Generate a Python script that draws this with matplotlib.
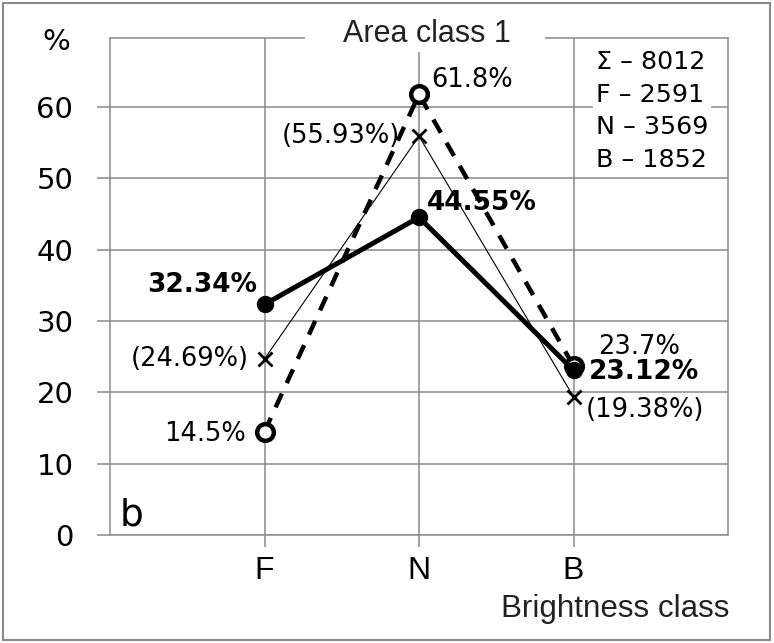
import matplotlib
matplotlib.use("Agg")
import matplotlib.pyplot as plt
from matplotlib.patches import Rectangle

# data
classes = ["F", "N", "B"]
solid_vals = [32.34, 44.55, 23.12]
thin_vals = [24.69, 55.93, 19.38]
dash_vals = [14.5, 61.8, 23.7]
solid_labels = ["32.34%", "44.55%", "23.12%"]
thin_labels = ["(24.69%)", "(55.93%)", "(19.38%)"]
dash_labels = ["14.5%", "61.8%", "23.7%"]
counts = ["Σ – 8012", "F – 2591", "N – 3569", "B – 1852"]
y_ticks = [0, 10, 20, 30, 40, 50, 60]

grey = "#8a8a8a"
plt.rcParams["font.family"] = ["DejaVu Sans"]

fig = plt.figure(figsize=(7.74, 6.43), dpi=100)
ax = fig.add_axes([110 / 774, 108 / 643, 618 / 774, 497 / 643])

x = list(range(len(classes)))

# thin line with crosses
ax.plot(x, thin_vals, color="black", lw=0.8, marker="x", ms=10, mew=2, zorder=3)
# dashed line with open circles
ax.plot(x, dash_vals, color="black", lw=3.2, dashes=(3.4, 2.6), marker="o",
        ms=12, mfc="white", mec="black", mew=3.2, zorder=4)
# thick solid line with filled circles
ax.plot(x, solid_vals, color="black", lw=3.6, marker="o", ms=11.5, zorder=5)

# point labels: (offset x, offset y) in points, alignment
solid_off = [(-5, 14, "right"), (6, 10, "left"), (11, -1, "left")]
thin_off = [(-11.5, 0, "right"), (-14, 0, "right"), (8.6, -9.4, "left")]
dash_off = [(-13.7, -1.4, "right"), (8.6, 10, "left"), (18, 13.7, "left")]

for i in x:
    dx, dy, ha = solid_off[i]
    ax.annotate(solid_labels[i], (x[i], solid_vals[i]), xytext=(dx, dy),
                textcoords="offset points", ha=ha, va="center",
                fontsize=19, fontweight="bold", zorder=6)
    dx, dy, ha = thin_off[i]
    ax.annotate(thin_labels[i], (x[i], thin_vals[i]), xytext=(dx, dy),
                textcoords="offset points", ha=ha, va="center",
                fontsize=18.5, zorder=6)
    dx, dy, ha = dash_off[i]
    ax.annotate(dash_labels[i], (x[i], dash_vals[i]), xytext=(dx, dy),
                textcoords="offset points", ha=ha, va="center",
                fontsize=18.5, zorder=6)

ax.set_xlim(-1, 3)
ax.set_ylim(0, 69.7)
ax.set_xticks(x)
ax.set_xticklabels(classes, fontsize=23, family="Liberation Sans")
ax.set_yticks(y_ticks)
ax.set_yticklabels([str(v) for v in y_ticks], fontsize=21)
ax.tick_params(axis="y", length=9.4, width=1.1, color=grey, pad=17)
ax.tick_params(axis="x", length=8.6, width=1.1, color=grey, pad=6.5)
ax.grid(True, color=grey, lw=1.1)
ax.set_axisbelow(True)
for s in ax.spines.values():
    s.set_color(grey)
    s.set_linewidth(1.1)

# outer frame
fig.patches.append(Rectangle((3 / 774, 3 / 643), 767 / 774, 637 / 643,
                             transform=fig.transFigure, fill=False,
                             edgecolor=grey, lw=1.5, zorder=1))
# white band behind the title
fig.patches.append(Rectangle((305 / 774, (643 - 52) / 643), 240 / 774, 38 / 643,
                             transform=fig.transFigure, facecolor="white",
                             edgecolor="none", zorder=2))
fig.text(427 / 774, (643 - 42) / 643, "Area class 1", ha="center", va="baseline",
         fontsize=22, family="Liberation Sans", color="#222222", zorder=3)

fig.text(56 / 774, (643 - 42) / 643, "%", ha="center", va="center", fontsize=21)
fig.text(120 / 774, (643 - 525) / 643, "b", ha="left", va="baseline", fontsize=27)
fig.text(615 / 774, (643 - 617) / 643, "Brightness class", ha="center",
         va="baseline", fontsize=22.6, family="Liberation Sans", color="#222222")

fig.text(596 / 774, (643 - 50) / 643, "\n".join(counts), ha="left", va="top",
         fontsize=18.3, linespacing=1.45, zorder=3,
         bbox=dict(boxstyle="square,pad=0.12", facecolor="white", edgecolor="none"))

fig.savefig("out.png", dpi=100)
